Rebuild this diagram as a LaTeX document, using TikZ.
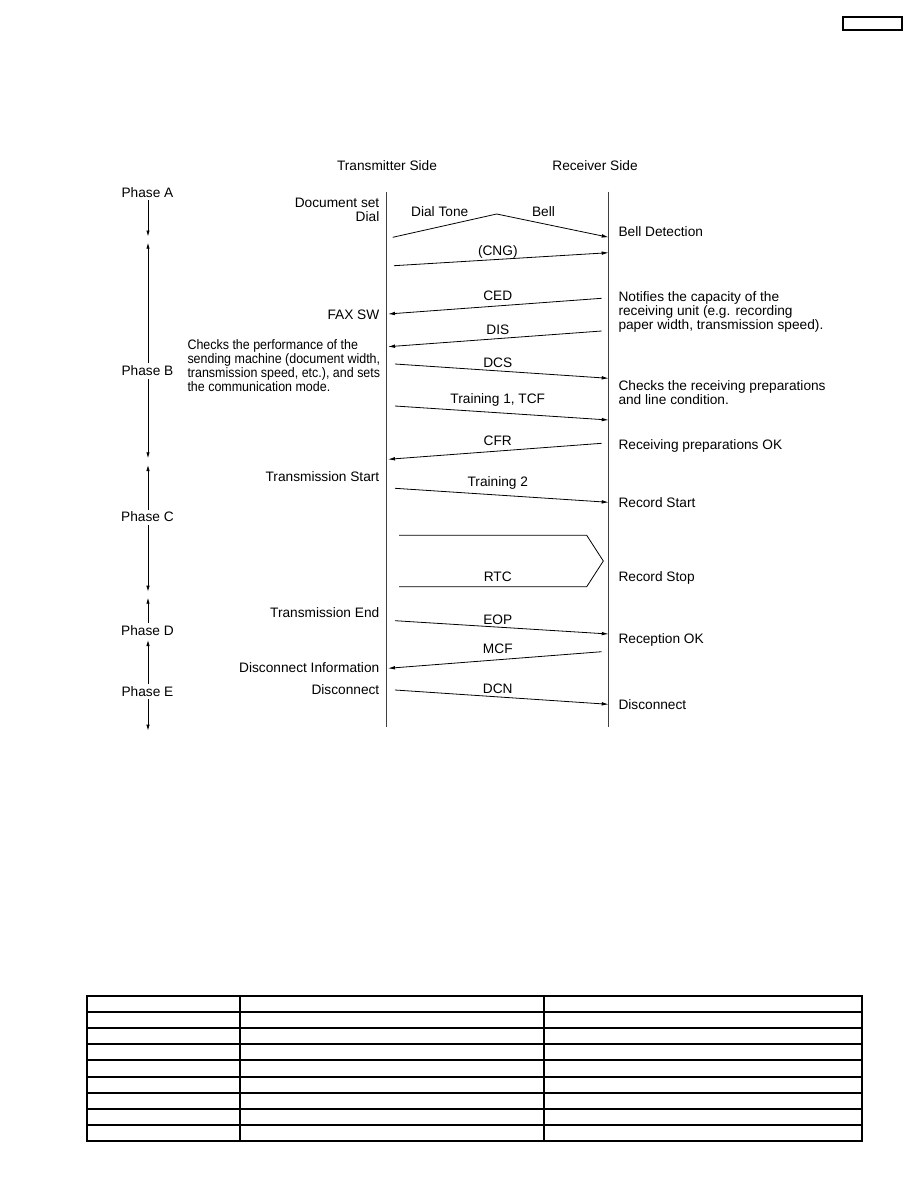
\documentclass[tikz,border=0pt]{standalone}
\usepackage{fontspec}
\setmainfont{Liberation Sans}
\newfontfamily\narrowfont[FakeStretch=0.91]{Liberation Sans}
\usetikzlibrary{arrows.meta}
\newcommand\txtsize{\fontsize{13.7}{14}\selectfont}
\newcommand\mlines[1]{\begin{tabular}[t]{@{}l@{}}#1\end{tabular}}
\begin{document}
\begin{tikzpicture}[x=1pt,y=-1pt,
  lbl/.style={font=\txtsize, inner sep=0pt},
  msg/.style={line width=0.8pt, black},
  tip/.style={-{Latex[length=7pt,width=3.6pt]}},
  lifeline/.style={line width=1.5pt, black!75},
  phaseline/.style={line width=0.8pt, black, -{Latex[length=6pt,width=3.4pt]}},
  grid/.style={line width=1.5pt, black}]
\path[use as bounding box] (0,0) rectangle (918,1188);

% top-right box
\draw[line width=1.4pt] (843,17) rectangle (902,30);

% headers
\node[lbl, anchor=base] (txside) at (387,170.5) {Transmitter Side};
\node[lbl, anchor=base] (rxside) at (595,170.5) {Receiver Side};

% lifelines
\coordinate (txtop) at (386.7,191.7);
\coordinate (txbot) at (386.7,726.7);
\coordinate (rxtop) at (608.7,191.7);
\coordinate (rxbot) at (608.7,726.7);
\draw[lifeline] (txtop) -- (txbot);
\draw[lifeline] (rxtop) -- (rxbot);

% phases
\node[lbl, anchor=base] (pa) at (147.5,197) {Phase A};
\node[lbl, anchor=base] (pb) at (147.5,375.5) {Phase B};
\node[lbl, anchor=base] (pc) at (147.5,521.7) {Phase C};
\node[lbl, anchor=base] (pd) at (147.5,635) {Phase D};
\node[lbl, anchor=base] (pe) at (147.5,696) {Phase E};
\coordinate (paend) at (148,236.5);
\coordinate (pbtop) at (148,242.7);
\coordinate (pbbot) at (148,458.3);
\coordinate (pctop) at (148,465);
\coordinate (pcbot) at (148,591.7);
\coordinate (pdtop) at (148,597.7);
\coordinate (petop) at (148,640);
\coordinate (pebot) at (148,730.7);
\draw[phaseline] ([yshift=-3pt]pa.south -| paend) -- (paend);
\draw[phaseline] ([yshift=2pt]pb.north -| pbtop) -- (pbtop);
\draw[phaseline] ([yshift=-3pt]pb.south -| pbbot) -- (pbbot);
\draw[phaseline] ([yshift=2pt]pc.north -| pctop) -- (pctop);
\draw[phaseline] ([yshift=-3pt]pc.south -| pcbot) -- (pcbot);
\draw[phaseline] ([yshift=2pt]pd.north -| pdtop) -- (pdtop);
\draw[phaseline] ([yshift=2pt]pe.north -| petop) -- (petop);
\draw[phaseline] ([yshift=-3pt]pe.south -| pebot) -- (pebot);

% transmitter-side notes
\node[lbl, anchor=base east] (docset) at (379.5,207) {Document set};
\node[lbl, anchor=base east] (dial) at (379.5,221.5) {Dial};
\node[lbl, anchor=base east] (faxsw) at (379.5,319) {FAX SW};
\node[lbl, anchor=base west, font=\txtsize\narrowfont] (checks) at (187.3,349.5)
  {\mlines{Checks the performance of the\\sending machine (document width,\\transmission speed, etc.), and sets\\the communication mode.}};
\node[lbl, anchor=base east] (txstart) at (379.5,481.7) {Transmission Start};
\node[lbl, anchor=base east] (txend) at (379.5,617) {Transmission End};
\node[lbl, anchor=base east] (discinfo) at (379.5,672) {Disconnect Information};
\node[lbl, anchor=base east] (disctx) at (379.5,694) {Disconnect};

% receiver-side notes
\node[lbl, anchor=base west] (belldet) at (618.3,236) {Bell Detection};
\node[lbl, anchor=base west] (notifies) at (618.3,301.7)
  {\mlines{Notifies the capacity of the\\receiving unit (e.g. recording\\paper width, transmission speed).}};
\node[lbl, anchor=base west] (checkrx) at (618.3,390)
  {\mlines{Checks the receiving preparations\\and line condition.}};
\node[lbl, anchor=base west] (prepok) at (618.3,449.3) {Receiving preparations OK};
\node[lbl, anchor=base west] (recstart) at (618.3,507) {Record Start};
\node[lbl, anchor=base west] (recstop) at (618.3,581) {Record Stop};
\node[lbl, anchor=base west] (recok) at (618.3,643) {Reception OK};
\node[lbl, anchor=base west] (discrx) at (618.3,709) {Disconnect};

% messages
\coordinate (dialS) at (392.7,237.3);
\coordinate (dialP) at (496.7,214);
\coordinate (dialE) at (608.7,237.3);
\draw[msg, tip] (dialS) -- (dialP) -- (dialE);
\node[lbl, anchor=base] (dialtone) at (439.7,216) {Dial Tone};
\node[lbl, anchor=base] (bell) at (543.5,216) {Bell};

\coordinate (cngS) at (394,265.7);
\coordinate (cngE) at (608.7,252.7);
\draw[msg, tip] (cngS) -- (cngE);
\node[lbl, anchor=base] (cng) at (497.8,255) {(CNG)};

\coordinate (cedS) at (601.7,298.3);
\coordinate (cedE) at (388,314);
\draw[msg, tip] (cedS) -- (cedE);
\node[lbl, anchor=base] (ced) at (497.8,300) {CED};

\coordinate (disS) at (601.7,331);
\coordinate (disE) at (388,346.7);
\draw[msg, tip] (disS) -- (disE);
\node[lbl, anchor=base] (dis) at (497.8,334) {DIS};

\coordinate (dcsS) at (395,364);
\coordinate (dcsE) at (608.7,378.3);
\draw[msg, tip] (dcsS) -- (dcsE);
\node[lbl, anchor=base] (dcs) at (497.8,367) {DCS};

\coordinate (tr1S) at (395,406);
\coordinate (tr1E) at (608.7,420);
\draw[msg, tip] (tr1S) -- (tr1E);
\node[lbl, anchor=base] (tr1) at (497.8,403) {Training 1, TCF};

\coordinate (cfrS) at (601.7,443.3);
\coordinate (cfrE) at (388,459.3);
\draw[msg, tip] (cfrS) -- (cfrE);
\node[lbl, anchor=base] (cfr) at (497.8,445.7) {CFR};

\coordinate (tr2S) at (395,488.3);
\coordinate (tr2E) at (608.7,502.3);
\draw[msg, tip] (tr2S) -- (tr2E);
\node[lbl, anchor=base] (tr2) at (497.8,486) {Training 2};

\coordinate (rtcA) at (399,535.3);
\coordinate (rtcB) at (586.7,535.3);
\coordinate (rtcC) at (603.3,561);
\coordinate (rtcD) at (586.7,586.7);
\coordinate (rtcE) at (399,586.7);
\draw[msg] (rtcA) -- (rtcB) -- (rtcC) -- (rtcD) -- (rtcE);
\node[lbl, anchor=base] (rtc) at (497.8,581.7) {RTC};

\coordinate (eopS) at (395,620.7);
\coordinate (eopE) at (608.7,634);
\draw[msg, tip] (eopS) -- (eopE);
\node[lbl, anchor=base] (eop) at (497.8,624) {EOP};

\coordinate (mcfS) at (601.7,651.7);
\coordinate (mcfE) at (388,668.3);
\draw[msg, tip] (mcfS) -- (mcfE);
\node[lbl, anchor=base] (mcf) at (497.8,653) {MCF};

\coordinate (dcnS) at (395,690);
\coordinate (dcnE) at (608.7,704.3);
\draw[msg, tip] (dcnS) -- (dcnE);
\node[lbl, anchor=base] (dcn) at (497.8,693) {DCN};

% empty table
\draw[grid] (87,996) rectangle (862,1141);
\foreach \yy in {1012,1028,1044,1060,1077,1093,1109,1125}
  \draw[grid] (87,\yy) -- (862,\yy);
\draw[grid] (240,996) -- (240,1141);
\draw[grid] (544,996) -- (544,1141);
\end{tikzpicture}
\end{document}
